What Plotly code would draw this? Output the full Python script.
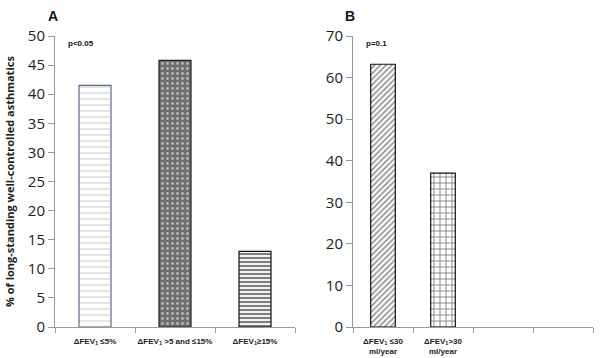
import plotly.graph_objects as go

# Panel A data
cats_a = ["ΔFEV<sub>1</sub> ≤5%", "ΔFEV<sub>1</sub> >5 and ≤15%", "ΔFEV<sub>1</sub>≥15%"]
vals_a = [41.5, 45.8, 13.0]
yticks_a = [0, 5, 10, 15, 20, 25, 30, 35, 40, 45, 50]

# Panel B data
cats_b = ["ΔFEV<sub>1</sub> ≤30<br>ml/year", "ΔFEV<sub>1</sub>>30<br>ml/year", "", ""]
vals_b = [63.2, 37.0]
yticks_b = [0, 10, 20, 30, 40, 50, 60, 70]

W, H = 600, 358
def px_x(p): return p / W
def px_y(p): return 1 - p / H

styles_a = [
    dict(shape="-", fg="#a8a8a8", bg="#ffffff", size=6, sol=0.2, line="#5a6a8a"),
    dict(shape=".", fg="#ffffff", bg="#6e6e6e", size=5, sol=0.25, line="#222222"),
    dict(shape="-", fg="#000000", bg="#ffffff", size=4, sol=0.55, line="#111111"),
]
styles_b = [
    dict(shape="/", fg="#222222", bg="#ffffff", size=4, sol=0.4, line="#111111"),
    dict(shape="+", fg="#111111", bg="#ffffff", size=6, sol=0.3, line="#111111"),
]

fig = go.Figure()

def add_bars(vals, styles, width, xa, ya):
    for i, (v, s) in enumerate(zip(vals, styles)):
        fig.add_trace(go.Bar(
            x=[i], y=[v], width=width, xaxis=xa, yaxis=ya,
            marker=dict(
                color=s["bg"],
                line=dict(color=s["line"], width=1.2),
                pattern=dict(shape=s["shape"], fgcolor=s["fg"], bgcolor=s["bg"],
                             size=s["size"], solidity=s["sol"], fillmode="overlay"),
            ),
            showlegend=False, hoverinfo="skip",
        ))

add_bars(vals_a, styles_a, 0.4, "x", "y")
add_bars(vals_b, styles_b, 0.41, "x2", "y2")

tickfont_y = dict(family="Open Sans, Liberation Sans, sans-serif", size=15, color="#222222")
tickfont_x = dict(family="Liberation Sans, Arial, sans-serif", size=8, color="#222222")

def xaxis_cfg(n, cats, domain, anchor):
    return dict(
        domain=domain, anchor=anchor, range=[-0.5, n - 0.5],
        tickmode="array", tickvals=list(range(n)), ticktext=["<b>%s</b>" % c if c else "" for c in cats],
        ticks="outside", ticklen=0, tickfont=tickfont_x, ticklabelstandoff=6,
        showline=True, linecolor="#999999", linewidth=1,
        showgrid=False, zeroline=False, fixedrange=True,
        minor=dict(tickmode="array", tickvals=[i - 0.5 for i in range(n + 1)],
                   ticks="outside", ticklen=5, tickcolor="#999999", showgrid=False),
    )

def yaxis_cfg(ticks, domain, anchor):
    return dict(
        domain=domain, anchor=anchor, range=[0, ticks[-1]],
        tickmode="array", tickvals=ticks, ticks="outside", ticklen=6,
        tickcolor="#999999", tickfont=tickfont_y,
        showline=True, linecolor="#999999", linewidth=1,
        showgrid=False, zeroline=False, fixedrange=True,
    )

ydom = [px_y(327), px_y(36)]
fig.update_layout(
    width=W, height=H, margin=dict(l=0, r=0, t=0, b=0, autoexpand=False),
    plot_bgcolor="white", paper_bgcolor="white",
    barmode="overlay",
    xaxis=xaxis_cfg(len(cats_a), cats_a, [px_x(55), px_x(295)], "y"),
    yaxis=yaxis_cfg(yticks_a, ydom, "x"),
    xaxis2=xaxis_cfg(len(cats_b), cats_b, [px_x(353), px_x(593)], "y2"),
    yaxis2=yaxis_cfg(yticks_b, ydom, "x2"),
)

ann_font = dict(family="Liberation Sans, Arial, sans-serif", color="#111111")
annotations = [
    dict(text="<b>A</b>", x=px_x(53), y=px_y(16), font=dict(size=14, **ann_font)),
    dict(text="<b>p<0.05</b>", x=px_x(81), y=px_y(44), font=dict(size=8, **ann_font)),
    dict(text="<b>B</b>", x=px_x(350), y=px_y(16), font=dict(size=14, **ann_font)),
    dict(text="<b>p=0.1</b>", x=px_x(376), y=px_y(44), font=dict(size=8, **ann_font)),
    dict(text="<b>% of long-standing well-controlled asthmatics</b>", x=px_x(9), y=px_y(182),
         textangle=-90, font=dict(size=11, family="Open Sans, Liberation Sans, sans-serif", color="#222222")),
]
for a in annotations:
    a.update(xref="paper", yref="paper", showarrow=False, xanchor="center", yanchor="middle")
fig.update_layout(annotations=annotations)

fig.write_html("out.html", config={"displayModeBar": False},
               post_script="document.body.style.margin='0';document.body.style.overflow='hidden';")
